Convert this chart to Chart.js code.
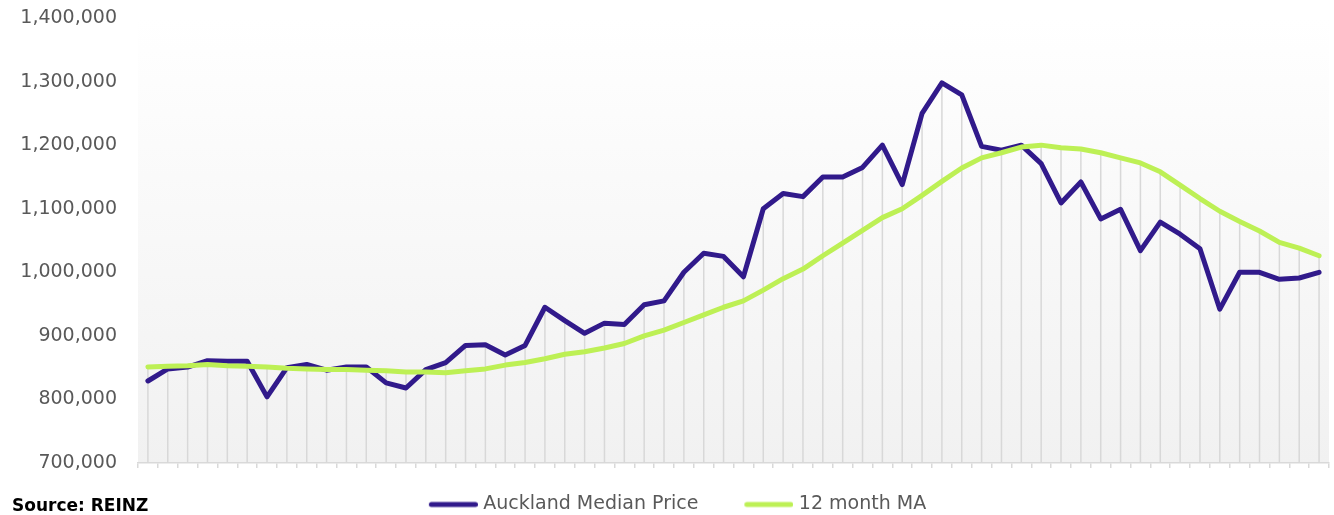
<!DOCTYPE html>
<html>
<head>
<meta charset="utf-8">
<script src="https://cdn.jsdelivr.net/npm/chart.js@4"></script>
<style>
  html, body { margin: 0; padding: 0; background: #ffffff; }
  #wrap { position: relative; width: 1334px; height: 515px; }
  #source { position: absolute; left: 12px; top: 495px; line-height: 20px; font: bold 17px "DejaVu Sans", sans-serif; color: #000; }
</style>
</head>
<body>
<div id="wrap">
  <canvas id="c" width="1334" height="515"></canvas>
  <div id="source">Source: REINZ</div>
</div>
<script>
const labels = [
  'Jul-18','Aug-18','Sep-18','Oct-18','Nov-18','Dec-18',
  'Jan-19','Feb-19','Mar-19','Apr-19','May-19','Jun-19','Jul-19','Aug-19','Sep-19','Oct-19','Nov-19','Dec-19',
  'Jan-20','Feb-20','Mar-20','Apr-20','May-20','Jun-20','Jul-20','Aug-20','Sep-20','Oct-20','Nov-20','Dec-20',
  'Jan-21','Feb-21','Mar-21','Apr-21','May-21','Jun-21','Jul-21','Aug-21','Sep-21','Oct-21','Nov-21','Dec-21',
  'Jan-22','Feb-22','Mar-22','Apr-22','May-22','Jun-22','Jul-22','Aug-22','Sep-22','Oct-22','Nov-22','Dec-22',
  'Jan-23','Feb-23','Mar-23','Apr-23','May-23','Jun-23'
];
const medianPrice = [
  829000, 848000, 851000, 861000, 860000, 860000, 804000, 850000, 855000, 846000,
  851000, 851000, 826000, 818000, 847000, 858000, 885000, 886000, 870000, 885000,
  945000, 924000, 904000, 920000, 918000, 949000, 955000, 1000000, 1030000, 1025000,
  993000, 1100000, 1124000, 1119000, 1150000, 1150000, 1165000, 1200000, 1138000, 1250000,
  1298000, 1279000, 1198000, 1192000, 1200000, 1171000, 1109000, 1142000, 1084000, 1099000,
  1034000, 1079000, 1060000, 1037000, 942000, 1000000, 1000000, 989000, 991000, 1000000
];
const movingAvg = [
  851000, 852000, 853000, 855000, 853000, 852000, 851000, 849000, 848000, 847000,
  847000, 846000, 845000, 843000, 843000, 842000, 845000, 848000, 854000, 858000,
  864000, 871000, 875000, 881000, 888000, 900000, 909000, 921000, 933000, 945000,
  955000, 972000, 990000, 1005000, 1026000, 1046000, 1066000, 1086000, 1100000, 1121000,
  1143000, 1164000, 1180000, 1188000, 1197000, 1200000, 1196000, 1194000, 1188000, 1180000,
  1172000, 1158000, 1137000, 1116000, 1096000, 1080000, 1065000, 1047000, 1038000, 1026000
];
const seriesNames = ['Auckland Median Price', '12 month MA'];
const yMin = 700000, yMax = 1400000, yStep = 100000;

const PURPLE = '#311a8b';
const GREEN = '#bdf055';
const LEGEND_BOX = 87;

function makeSwatch(color) {
  const c = document.createElement('canvas');
  c.width = LEGEND_BOX + 8; c.height = 10;
  const g = c.getContext('2d');
  g.strokeStyle = color; g.lineWidth = 5; g.lineCap = 'round';
  g.beginPath(); g.moveTo(c.width - 49 + 2.5, 5); g.lineTo(c.width - 2.5, 5); g.stroke();
  return c;
}

const bgPlugin = {
  id: 'plotBg',
  beforeDraw(chart) {
    const { ctx, chartArea: a } = chart;
    const g = ctx.createLinearGradient(0, a.top, 0, a.bottom);
    g.addColorStop(0, '#ffffff');
    g.addColorStop(1, '#f1f1f1');
    ctx.save();
    ctx.fillStyle = g;
    ctx.fillRect(a.left, a.top, a.right - a.left, a.bottom - a.top);
    ctx.restore();
  }
};

const dropLinesPlugin = {
  id: 'dropLines',
  beforeDatasetsDraw(chart) {
    const { ctx, chartArea: a, scales: { x, y } } = chart;
    ctx.save();
    ctx.strokeStyle = '#d8d8d8';
    ctx.lineWidth = 1.5;
    labels.forEach((l, i) => {
      const top = Math.max(medianPrice[i], movingAvg[i]);
      const px = x.getPixelForValue(i);
      ctx.beginPath();
      ctx.moveTo(px, y.getPixelForValue(top));
      ctx.lineTo(px, a.bottom);
      ctx.stroke();
    });
    ctx.restore();
  }
};

new Chart(document.getElementById('c'), {
  type: 'line',
  data: {
    labels: labels,
    datasets: [
      { label: seriesNames[0], data: medianPrice, borderColor: PURPLE, backgroundColor: PURPLE,
        borderWidth: 5, pointRadius: 0, tension: 0, borderJoinStyle: 'round', borderCapStyle: 'round', order: 1 },
      { label: seriesNames[1], data: movingAvg, borderColor: GREEN, backgroundColor: GREEN,
        borderWidth: 5, pointRadius: 0, tension: 0, borderJoinStyle: 'round', borderCapStyle: 'round', order: 0 }
    ]
  },
  options: {
    responsive: false,
    devicePixelRatio: 1,
    animation: false,
    layout: { padding: { left: -16, right: 5, top: 18, bottom: -9 } },
    plugins: {
      tooltip: { enabled: false },
      legend: {
        position: 'bottom',
        labels: {
          usePointStyle: true,
          pointStyleWidth: LEGEND_BOX,
          padding: 4,
          color: '#595959',
          font: { family: 'DejaVu Sans', size: 19 },
          sort: (a, b) => a.datasetIndex - b.datasetIndex,
          generateLabels(chart) {
            return chart.data.datasets.map((ds, i) => ({
              text: ds.label,
              fillStyle: ds.borderColor,
              strokeStyle: ds.borderColor,
              lineWidth: 0,
              pointStyle: makeSwatch(ds.borderColor),
              datasetIndex: i,
              hidden: false,
              fontColor: '#595959'
            }));
          }
        }
      }
    },
    scales: {
      x: {
        offset: true,
        grid: { offset: true, drawOnChartArea: false, drawTicks: true, tickLength: 5, color: '#d9d9d9', lineWidth: 1.5 },
        border: { color: '#d9d9d9', width: 1.5 },
        ticks: { display: false, autoSkip: false },
        afterFit(s) { s.height = 28; }
      },
      y: {
        min: yMin, max: yMax,
        grid: { display: false, drawTicks: false },
        border: { display: false },
        ticks: {
          stepSize: yStep,
          padding: 21,
          color: '#595959',
          font: { family: 'DejaVu Sans', size: 19 },
          callback: v => Number(v).toLocaleString('en-US')
        },
        afterFit(s) { s.width = 154; s.paddingTop = 0; s.paddingBottom = 0; }
      }
    }
  },
  plugins: [bgPlugin, dropLinesPlugin]
});
</script>
</body>
</html>
